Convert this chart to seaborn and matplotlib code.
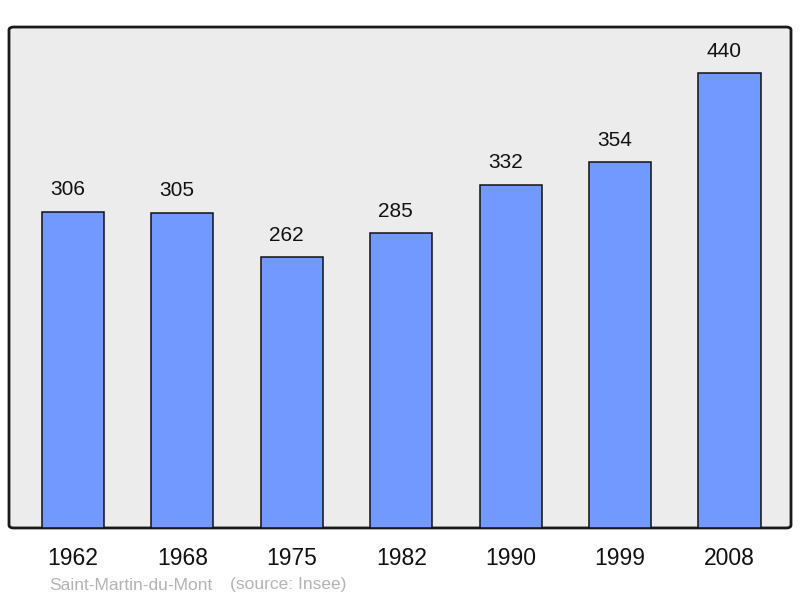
import matplotlib
matplotlib.use("Agg")
import matplotlib.pyplot as plt
import seaborn as sns
import pandas as pd
from matplotlib.patches import FancyBboxPatch

years = ["1962", "1968", "1975", "1982", "1990", "1999", "2008"]
population = [306, 305, 262, 285, 332, 354, 440]
commune = "Saint-Martin-du-Mont"
source = "(source: Insee)"

sns.set_theme(style="white")
plt.rcParams['font.family'] = ['Liberation Sans', 'DejaVu Sans']

df = pd.DataFrame({"year": years, "pop": population})

fig = plt.figure(figsize=(8, 5.98), dpi=100)
ax = fig.add_axes([0.01125, 0.1171, 0.9775, 0.8377])
ax.set_facecolor("none")

frame = FancyBboxPatch((0, 0), 1, 1, boxstyle="round,pad=0,rounding_size=0.006",
                       transform=ax.transAxes, facecolor="#ececec",
                       edgecolor="#1a1a1a", linewidth=2, zorder=0, clip_on=False)
ax.add_patch(frame)

sns.barplot(data=df, x="year", y="pop", ax=ax, color="#7299ff", saturation=1,
            width=0.567, edgecolor="#111111", linewidth=1.1, zorder=2)

for i, v in enumerate(population):
    ax.text(i - 0.05, v + 12, str(v), ha="center", va="bottom", fontsize=15, color="#111111")

ax.set_xlim(-0.585, 6.562)
ax.set_ylim(0, 484.5)
for s in ax.spines.values():
    s.set_visible(False)
ax.set_yticks([])
ax.set_xlabel("")
ax.set_ylabel("")
ax.tick_params(axis="x", length=0, labelsize=16.5, pad=14, colors="#111111")

fig.text(49/800, 1 - 585/598, commune, fontsize=12.5, color="#b4b4b4", va="center", ha="left")
fig.text(230/800, 1 - 585/598, source, fontsize=12.5, color="#b4b4b4", va="center", ha="left")

fig.savefig("out.png", dpi=100)
